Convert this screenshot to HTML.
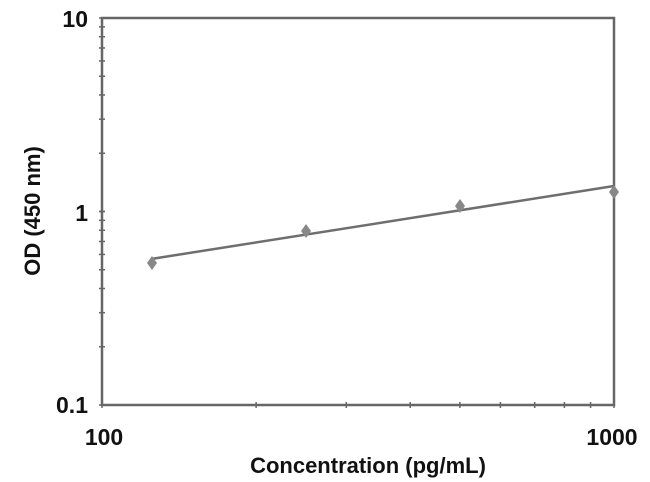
<!DOCTYPE html>
<html><head><style>body{margin:0;background:#fff}svg{display:block}text{font-family:"Liberation Sans",Arial,sans-serif;font-weight:bold;fill:#111}</style></head>
<body>
<svg id="s" width="650" height="482" xmlns="http://www.w3.org/2000/svg">
<rect x="102" y="18" width="512" height="387" fill="#fff" stroke="#666" stroke-width="2.5"/>
<line x1="151" y1="259" x2="614" y2="186" stroke="#6e6e6e" stroke-width="2.5"/>
<g fill="#888">
<polygon points="152,256 157,263 152,270 147,263"/>
<polygon points="306,224 311,231 306,238 301,231"/>
<polygon points="460,199 465,206 460,213 455,206"/>
<polygon points="614,185 619,192 614,199 609,192"/>
</g>
<g id="t" stroke="#666" stroke-width="1.5"></g>
<text x="88" y="27" font-size="23" text-anchor="end">10</text>
<text x="88" y="221" font-size="23" text-anchor="end">1</text>
<text x="88" y="413" font-size="23" text-anchor="end">0.1</text>
<text x="104" y="445" font-size="23" text-anchor="middle">100</text>
<text x="612" y="445" font-size="23" text-anchor="middle">1000</text>
<text x="368" y="473" font-size="22" text-anchor="middle">Concentration (pg/mL)</text>
<text transform="translate(40,211) rotate(-90)" font-size="22" text-anchor="middle">OD (450 nm)</text>
</svg>
<script>
var g=document.getElementById('t'),h='';
for(var d=0;d<2;d++)for(var k=1;k<=10;k++){var y=405-193.5*(d+Math.log10(k));h+='<line x1="99" x2="105" y1="'+y+'" y2="'+y+'"/>';}
for(var k=1;k<=10;k++){var x=102+512*Math.log10(k);h+='<line y1="402" y2="408" x1="'+x+'" x2="'+x+'"/>';}
g.innerHTML=h;
</script>
</body></html>
